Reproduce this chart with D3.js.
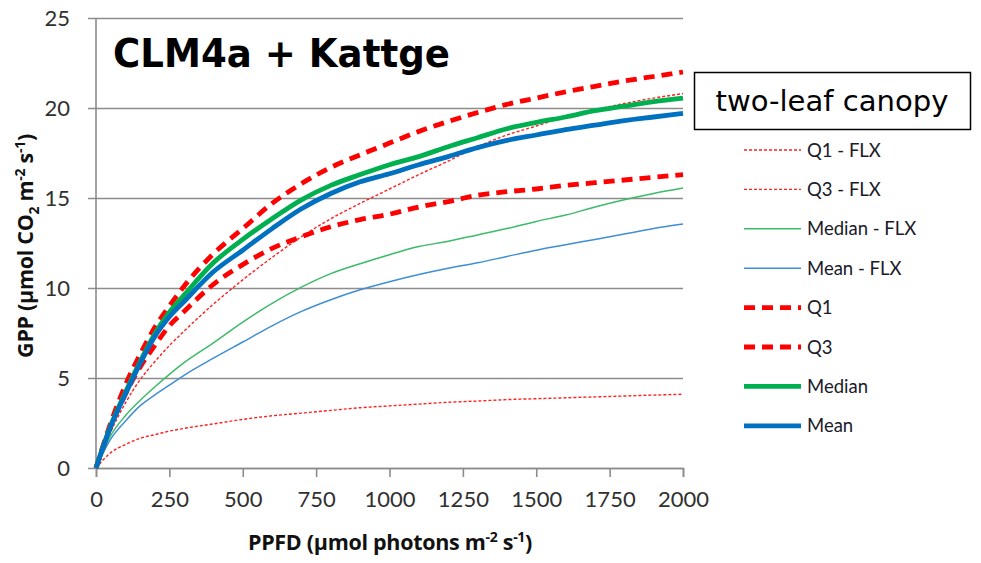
<!DOCTYPE html>
<html>
<head>
<meta charset="utf-8">
<script src="https://cdn.jsdelivr.net/npm/d3@7"></script>
<style>
  html, body { margin: 0; padding: 0; background: #fff; }
  svg { display: block; }
</style>
</head>
<body>
<svg id="chart" width="981" height="563"></svg>
<script>
// PPFD sample points (µmol photons m-2 s-1)
const ppfd = [0, 50, 100, 150, 200, 250, 300, 400, 500, 600, 700, 800, 900, 1000,
              1100, 1200, 1300, 1400, 1500, 1600, 1700, 1800, 1900, 2000];

// GPP (µmol CO2 m-2 s-1), flux-tower quartiles / median / mean
const q1Flx     = [0, 0.85, 1.3, 1.65, 1.85, 2.05, 2.2, 2.45, 2.7, 2.9, 3.05, 3.2, 3.35, 3.45,
                   3.55, 3.65, 3.72, 3.8, 3.85, 3.9, 3.95, 4.0, 4.05, 4.1];
const q3Flx     = [0, 2.0, 3.6, 4.9, 5.9, 6.8, 7.6, 9.1, 10.45, 11.7, 12.85, 13.85, 14.7, 15.5,
                   16.3, 17.05, 17.85, 18.5, 19.0, 19.5, 19.9, 20.25, 20.55, 20.8];
const medianFlx = [0, 1.8, 2.9, 3.75, 4.5, 5.2, 5.85, 6.95, 8.1, 9.15, 10.05, 10.8, 11.35, 11.85,
                   12.3, 12.6, 12.95, 13.3, 13.7, 14.05, 14.5, 14.9, 15.25, 15.55];
const meanFlx   = [0, 1.6, 2.6, 3.45, 4.05, 4.6, 5.15, 6.1, 7.0, 7.9, 8.7, 9.35, 9.9, 10.35,
                   10.75, 11.1, 11.4, 11.75, 12.1, 12.4, 12.7, 13.0, 13.3, 13.55];

// GPP from the model
const q1Model     = [0, 2.3, 4.1, 5.6, 6.8, 7.9, 8.7, 10.2, 11.3, 12.2, 12.85, 13.4, 13.8, 14.1,
                     14.5, 14.8, 15.15, 15.35, 15.5, 15.7, 15.85, 16.0, 16.15, 16.3];
const q3Model     = [0, 2.5, 4.6, 6.3, 7.8, 9.0, 10.1, 11.9, 13.3, 14.7, 15.8, 16.7, 17.4, 18.05,
                     18.7, 19.25, 19.75, 20.2, 20.55, 20.9, 21.2, 21.5, 21.75, 22.0];
const medianModel = [0, 2.35, 4.2, 5.9, 7.45, 8.65, 9.6, 11.4, 12.7, 13.85, 14.9, 15.7, 16.3, 16.85,
                     17.3, 17.85, 18.35, 18.85, 19.2, 19.5, 19.85, 20.1, 20.35, 20.55];
const meanModel   = [0, 2.3, 4.1, 5.8, 7.3, 8.4, 9.25, 10.9, 12.1, 13.3, 14.4, 15.25, 15.9, 16.35,
                     16.85, 17.3, 17.8, 18.2, 18.5, 18.8, 19.05, 19.3, 19.5, 19.7];

const xTicks = [0, 250, 500, 750, 1000, 1250, 1500, 1750, 2000];
const yTicks = [0, 5, 10, 15, 20, 25];

const seriesNames = ["Q1 - FLX", "Q3 - FLX", "Median - FLX", "Mean - FLX", "Q1", "Q3", "Median", "Mean"];
const seriesValues = [q1Flx, q3Flx, medianFlx, meanFlx, q1Model, q3Model, medianModel, meanModel];

const styles = {
  "Q1 - FLX":     { color: "#ff2020", width: 1.4, dash: "3,2" },
  "Q3 - FLX":     { color: "#ff2020", width: 1.4, dash: "3,2" },
  "Median - FLX": { color: "#3dba6a", width: 1.5, dash: null },
  "Mean - FLX":   { color: "#3f8fd4", width: 1.5, dash: null },
  "Q1":           { color: "#ff0000", width: 4.8, dash: "11,7" },
  "Q3":           { color: "#ff0000", width: 4.8, dash: "11,7" },
  "Median":       { color: "#00b050", width: 4.8, dash: null },
  "Mean":         { color: "#0070c0", width: 4.8, dash: null }
};

const svg = d3.select("#chart");
const x = d3.scaleLinear().domain([0, 2000]).range([96, 683]);
const y = d3.scaleLinear().domain([0, 25]).range([468, 18]);

const gridColor = "#8c8c8c";
const labelFont = "Lato, 'Open Sans', sans-serif";

// horizontal gridlines with left tick stubs
svg.append("g")
  .attr("transform", "translate(683,0)")
  .call(d3.axisLeft(y).tickValues(yTicks).tickSize(683 - 88).tickFormat(""))
  .call(g => g.select(".domain").remove())
  .call(g => g.selectAll("line").attr("stroke", gridColor).attr("stroke-width", 1.6));

// y tick labels
svg.append("g")
  .attr("transform", "translate(88,0)")
  .call(d3.axisLeft(y).tickValues(yTicks).tickSize(0).tickPadding(18))
  .call(g => g.select(".domain").remove())
  .call(g => g.selectAll("text")
    .attr("font-family", labelFont).attr("font-size", 22).attr("fill", "#303030"));

// vertical axis line
svg.append("line")
  .attr("x1", x(0)).attr("x2", x(0)).attr("y1", y(25)).attr("y2", y(0))
  .attr("stroke", gridColor).attr("stroke-width", 1.6);

// x axis
svg.append("g")
  .attr("transform", `translate(0,${y(0)})`)
  .call(d3.axisBottom(x).tickValues(xTicks).tickSize(9).tickPadding(14).tickFormat(d3.format("d")))
  .call(g => g.select(".domain").attr("stroke", gridColor).attr("stroke-width", 1.6))
  .call(g => g.selectAll("line").attr("stroke", gridColor).attr("stroke-width", 1.6))
  .call(g => g.selectAll("text")
    .attr("font-family", labelFont).attr("font-size", 22).attr("fill", "#303030"));

// series lines
const line = d3.line()
  .x((d, i) => x(ppfd[i]))
  .y(d => y(d))
  .curve(d3.curveMonotoneX);

const lines = svg.append("g").attr("fill", "none");
seriesNames.forEach((name, k) => {
  const s = styles[name];
  lines.append("path")
    .datum(seriesValues[k])
    .attr("d", line)
    .attr("stroke", s.color)
    .attr("stroke-width", s.width)
    .attr("stroke-dasharray", s.dash)
    .attr("stroke-linejoin", "round");
});

// title
svg.append("text")
  .attr("x", 113).attr("y", 67)
  .attr("font-family", "'DejaVu Sans', sans-serif")
  .attr("font-weight", "bold")
  .attr("font-size", 39)
  .attr("textLength", 337)
  .attr("lengthAdjust", "spacingAndGlyphs")
  .attr("fill", "#000")
  .text("CLM4a + Kattge");

// canopy label box
svg.append("rect")
  .attr("x", 694.5).attr("y", 72.5).attr("width", 276).attr("height", 57)
  .attr("fill", "#fff").attr("stroke", "#000").attr("stroke-width", 1.5);
svg.append("text")
  .attr("x", 832).attr("y", 111)
  .attr("text-anchor", "middle")
  .attr("font-family", "'DejaVu Sans', sans-serif")
  .attr("font-size", 29)
  .attr("textLength", 233)
  .attr("lengthAdjust", "spacingAndGlyphs")
  .attr("fill", "#000")
  .text("two-leaf canopy");

// legend
const legend = svg.append("g");
seriesNames.forEach((name, k) => {
  const s = styles[name];
  const ly = 150 + k * 39.4;
  legend.append("line")
    .attr("x1", 744).attr("x2", 801).attr("y1", ly).attr("y2", ly)
    .attr("stroke", s.color)
    .attr("stroke-width", s.width)
    .attr("stroke-dasharray", s.dash);
  legend.append("text")
    .attr("x", 807).attr("y", ly)
    .attr("dy", "0.36em")
    .attr("font-family", labelFont)
    .attr("font-size", 18.5)
    .attr("fill", "#1a1a2a")
    .text(name);
});

// axis titles
const xt = svg.append("text")
  .attr("x", 390).attr("y", 550)
  .attr("text-anchor", "middle")
  .attr("font-family", "'Open Sans', sans-serif")
  .attr("font-weight", "bold")
  .attr("font-size", 21.5)
  .attr("letter-spacing", -0.3)
  .attr("fill", "#111");
xt.append("tspan").text("PPFD (µmol photons m");
xt.append("tspan").attr("dy", -8).attr("font-size", 14).text("-2");
xt.append("tspan").attr("dy", 8).text(" s");
xt.append("tspan").attr("dy", -8).attr("font-size", 14).text("-1");
xt.append("tspan").attr("dy", 8).text(")");

const yt = svg.append("text")
  .attr("transform", "translate(33,246) rotate(-90)")
  .attr("text-anchor", "middle")
  .attr("font-family", "'Open Sans', sans-serif")
  .attr("font-weight", "bold")
  .attr("font-size", 21.5)
  .attr("letter-spacing", -0.3)
  .attr("fill", "#111");
yt.append("tspan").text("GPP (µmol CO");
yt.append("tspan").attr("dy", 6).attr("font-size", 14).text("2");
yt.append("tspan").attr("dy", -6).text(" m");
yt.append("tspan").attr("dy", -8).attr("font-size", 14).text("-2");
yt.append("tspan").attr("dy", 8).text(" s");
yt.append("tspan").attr("dy", -8).attr("font-size", 14).text("-1");
yt.append("tspan").attr("dy", 8).text(")");
</script>
</body>
</html>
